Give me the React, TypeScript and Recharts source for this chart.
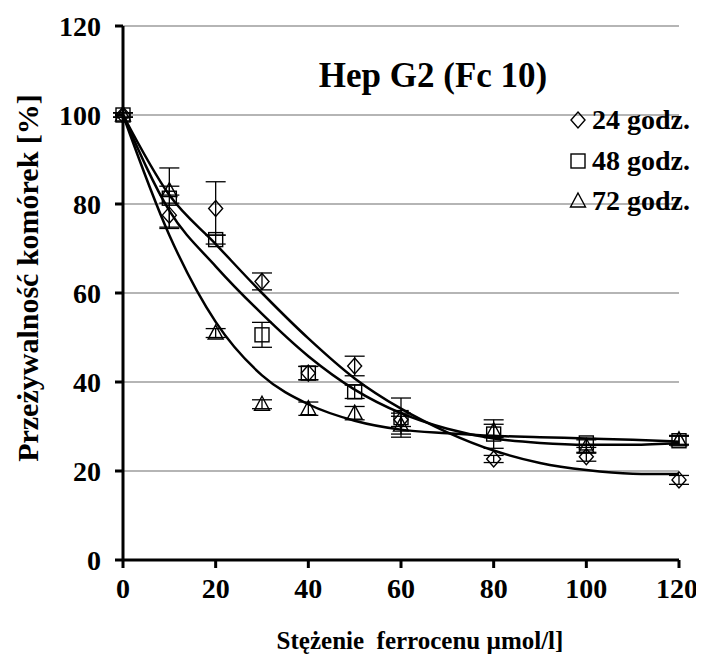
import React from 'react';
import {
  ComposedChart, Line, Scatter, ErrorBar, XAxis, YAxis, CartesianGrid,
} from 'recharts';

// --- dane ---
const concentrations = [0, 10, 20, 30, 40, 50, 60, 80, 100, 120];
const xTicks = [0, 20, 40, 60, 80, 100, 120];
const yTicks = [0, 20, 40, 60, 80, 100, 120];

// punkty pomiarowe (średnia) i odchylenie
const val24 = [100, 77.5, 79, 62.6, 42, 43.6, 31.5, 22.7, 23.2, 18];
const err24 = [0.5, 2.7, 6, 1.9, 1.5, 2.2, 1.5, 0.8, 1, 1];
const val48 = [100, 81.3, 72, 50.6, 42, 37.8, 32, 28.3, 26.3, 26.8];
const err48 = [0.5, 6.8, 1, 2.8, 1.5, 1.5, 4.4, 3.2, 1, 1];
const val72 = [100, 83, 51, 35, 34, 33, 30.3, 29, 25.5, 27];
const err72 = [0.5, 1, 1, 1, 1.5, 1.5, 2, 1.5, 1.5, 1];

// linie trendu (odczytane co 10 jednostek)
const trendX = [0, 10, 20, 30, 40, 50, 60, 70, 80, 90, 100, 110, 120];
const trend24 = [100, 82, 71, 60, 49.8, 40.8, 34, 28.7, 24.6, 21.8, 20.2, 19.4, 19.3];
const trend48 = [100, 78.5, 66, 55.3, 45.8, 38.3, 33, 29.5, 27.3, 26.3, 25.9, 25.9, 26.3];
const trend72 = [100, 73, 53.5, 41.5, 35, 31.3, 29.3, 28.5, 27.9, 27.6, 27.3, 27, 26.6];

const FONT = '"Liberation Serif", "DejaVu Serif", "Times New Roman", Tinos, serif';

const pts = (vals: number[], errs: number[]) =>
  concentrations.map((x, i) => ({ x, y: vals[i], err: errs[i] }));
const curve = (vals: number[]) => trendX.map((x, i) => ({ x, y: vals[i] }));

const Diamond = ({ cx, cy }: any) => (
  <polygon
    points={`${cx},${cy - 8} ${cx + 7},${cy} ${cx},${cy + 8} ${cx - 7},${cy}`}
    fill="none" stroke="#000" strokeWidth={1.4}
  />
);
const Square = ({ cx, cy }: any) => (
  <rect x={cx - 7} y={cy - 7} width={14} height={14} fill="none" stroke="#000" strokeWidth={1.4} />
);
const Triangle = ({ cx, cy }: any) => (
  <polygon
    points={`${cx},${cy - 8} ${cx + 7.5},${cy + 6} ${cx - 7.5},${cy + 6}`}
    fill="none" stroke="#000" strokeWidth={1.4}
  />
);

const series = [
  { name: '24 godz.', data: pts(val24, err24), trend: curve(trend24), Shape: Diamond },
  { name: '48 godz.', data: pts(val48, err48), trend: curve(trend48), Shape: Square },
  { name: '72 godz.', data: pts(val72, err72), trend: curve(trend72), Shape: Triangle },
];

const tickStyle = { fill: '#000', fontSize: 28, fontWeight: 700, fontFamily: FONT };

export default function App() {
  return (
    <div style={{ position: 'relative', width: 690, height: 650, fontFamily: FONT }}>
      <ComposedChart width={690} height={650} margin={{ top: 18, right: 19, left: 0, bottom: 0 }}>
        <CartesianGrid vertical={false} stroke="#9c9c9c" strokeWidth={1.5} />
        <XAxis
          type="number"
          dataKey="x"
          domain={[0, 120]}
          ticks={xTicks}
          height={98}
          axisLine={{ stroke: '#000', strokeWidth: 3 }}
          tickLine={{ stroke: '#000', strokeWidth: 3 }}
          tickSize={8}
          tickMargin={10}
          tick={tickStyle}
          label={{
            content: () => (
              <text x={412} y={632} textAnchor="middle" dominantBaseline="central"
                style={{ fontSize: 25, fontWeight: 700, fontFamily: FONT, whiteSpace: 'pre' }} fill="#000">
                Stężenie  ferrocenu µmol/l]
              </text>
            ),
          }}
        />
        <YAxis
          type="number"
          dataKey="y"
          domain={[0, 120]}
          ticks={yTicks}
          width={115}
          axisLine={{ stroke: '#000', strokeWidth: 3 }}
          tickLine={{ stroke: '#000', strokeWidth: 3 }}
          tickSize={8}
          tickMargin={14}
          tick={tickStyle}
          label={{
            content: () => (
              <text x={19} y={270} transform="rotate(-90, 19, 270)" textAnchor="middle"
                dominantBaseline="central" fill="#000"
                style={{ fontSize: 30, fontWeight: 700, fontFamily: FONT }}>
                Przeżywalność komórek [%]
              </text>
            ),
          }}
        />
        {series.map((s) => (
          <Line
            key={'t' + s.name}
            data={s.trend}
            dataKey="y"
            type="monotone"
            stroke="#000"
            strokeWidth={2.5}
            dot={false}
            activeDot={false}
            legendType="none"
            isAnimationActive={false}
          />
        ))}
        {series.map((s) => (
          <Scatter
            key={s.name}
            name={s.name}
            data={s.data}
            dataKey="y"
            shape={(p: any) => <s.Shape cx={p.cx} cy={p.cy} />}
            isAnimationActive={false}
          >
            <ErrorBar dataKey="err" direction="y" width={10} stroke="#000" strokeWidth={1.3} />
          </Scatter>
        ))}
      </ComposedChart>

      <div style={{
        position: 'absolute', left: 270, top: 48, width: 310, textAlign: 'center',
        fontSize: 35, fontWeight: 700, lineHeight: '40px',
      }}>
        Hep G2 (Fc 10)
      </div>

      <div style={{ position: 'absolute', left: 560, top: 92 }}>
        {series.map((s) => (
          <div key={s.name} style={{ display: 'flex', alignItems: 'center', height: 40.5 }}>
            <svg width={20} height={20} style={{ marginRight: 4 }}>
              <s.Shape cx={10} cy={10} />
            </svg>
            <span style={{ fontSize: 28, fontWeight: 700, whiteSpace: 'nowrap' }}>{s.name}</span>
          </div>
        ))}
      </div>
    </div>
  );
}
